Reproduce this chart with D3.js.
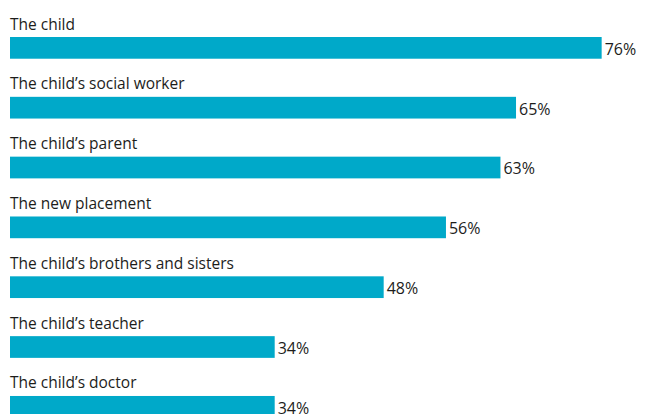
<!DOCTYPE html>
<html>
<head>
<meta charset="utf-8">
<script src="https://cdn.jsdelivr.net/npm/d3@7"></script>
<style>
  html, body { margin: 0; padding: 0; background: #fff; }
  svg { display: block; }
  text { font-family: "Open Sans", "Noto Sans", sans-serif; fill: #1d1d1b; }
</style>
</head>
<body>
<svg id="chart" width="649" height="414"></svg>
<script>
// Who was told about the move
const categories = [
  "The child",
  "The child’s social worker",
  "The child’s parent",
  "The new placement",
  "The child’s brothers and sisters",
  "The child’s teacher",
  "The child’s doctor"
];
const values = [76, 65, 63, 56, 48, 34, 34];

const width = 649, height = 414;
const svg = d3.select("#chart");

const x = d3.scaleLinear().domain([0, 100]).range([10, 788.5]);

const step = 59.83, pad = 0.637;
const y = d3.scaleBand()
  .domain(categories)
  .range([37, 37 + step * (categories.length - pad)])
  .paddingInner(pad)
  .paddingOuter(0);

const rows = svg.selectAll("g.row")
  .data(categories.map((c, i) => ({ c, v: values[i] })))
  .join("g")
  .attr("class", "row");

rows.append("rect")
  .attr("x", x(0))
  .attr("y", d => y(d.c))
  .attr("width", d => x(d.v) - x(0))
  .attr("height", y.bandwidth())
  .attr("fill", "#00a9c9");

// category label above each bar
rows.append("text")
  .attr("x", 10)
  .attr("y", d => y(d.c) - 7.5)
  .attr("font-size", 15.5)
  .text(d => d.c);

// value label at the end of each bar
rows.append("text")
  .attr("x", d => x(d.v) + 3)
  .attr("y", d => y(d.c) + y.bandwidth() - 4)
  .attr("font-size", 16)
  .text(d => d.v + "%");
</script>
</body>
</html>
